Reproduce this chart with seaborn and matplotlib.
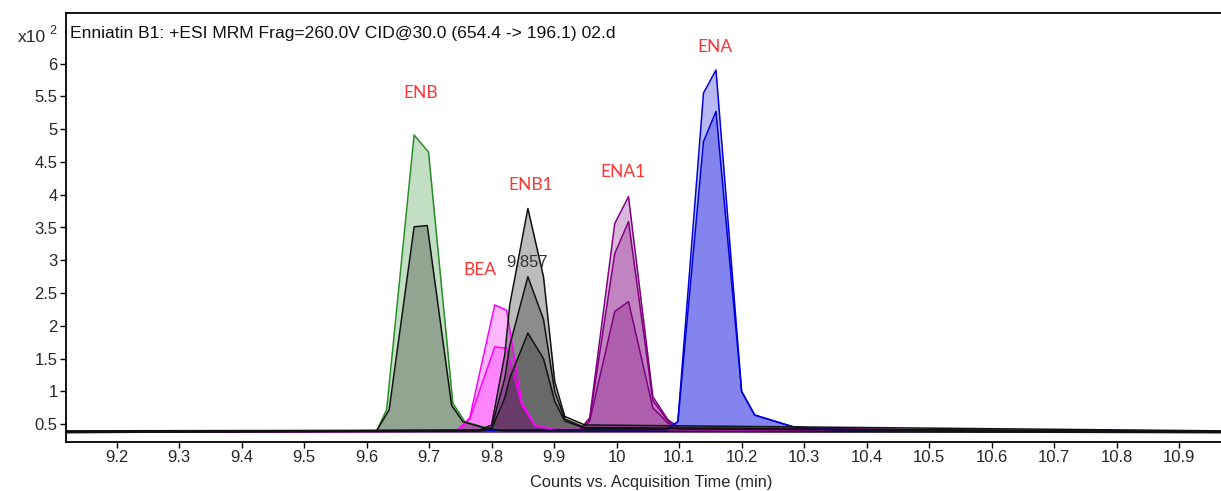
import numpy as np
import pandas as pd
import matplotlib
matplotlib.use("Agg")
import matplotlib.pyplot as plt
import seaborn as sns

# retention times (min) and abundances (x10^2 counts)
enb_t = [9.119, 9.616, 9.632, 9.676, 9.699, 9.738, 9.757, 9.79, 9.82, 10.967]
enb_green = [0.39, 0.40, 0.72, 4.91, 4.65, 0.82, 0.54, 0.45, 0.40, 0.39]
enb_t2 = [9.119, 9.616, 9.636, 9.676, 9.697, 9.736, 9.754, 9.79, 9.82, 10.967]
enb_black = [0.372, 0.40, 0.72, 3.51, 3.53, 0.79, 0.54, 0.44, 0.40, 0.372]

bea_t = [9.119, 9.745, 9.765, 9.805, 9.824, 9.848, 9.869, 9.90, 10.967]
bea_hi = [0.385, 0.40, 0.60, 2.32, 2.24, 0.84, 0.49, 0.42, 0.385]
bea_lo = [0.385, 0.40, 0.58, 1.68, 1.66, 0.80, 0.48, 0.42, 0.385]

enb1_t = [9.119, 9.78, 9.80, 9.821, 9.829, 9.858, 9.883, 9.901, 9.917, 9.949, 10.967]
enb1_hi = [0.40, 0.41, 0.49, 1.56, 2.32, 3.79, 2.75, 1.15, 0.62, 0.49, 0.40]
enb1_mid = [0.386, 0.40, 0.45, 1.20, 1.70, 2.75, 2.10, 1.00, 0.58, 0.45, 0.386]
enb1_lo = [0.378, 0.40, 0.43, 0.90, 1.20, 1.89, 1.50, 0.85, 0.55, 0.44, 0.378]

ena1_t = [9.119, 9.94, 9.957, 9.997, 10.019, 10.058, 10.082, 10.10, 10.967]
ena1_hi = [0.38, 0.40, 0.60, 3.56, 3.97, 0.92, 0.57, 0.45, 0.38]
ena1_mid = [0.38, 0.40, 0.58, 3.10, 3.59, 0.86, 0.55, 0.44, 0.38]
ena1_lo = [0.38, 0.40, 0.55, 2.22, 2.37, 0.75, 0.52, 0.43, 0.38]

ena_t = [9.119, 10.08, 10.098, 10.139, 10.159, 10.20, 10.221, 10.283, 10.35, 10.5, 10.967]
ena_hi = [0.385, 0.42, 0.54, 5.55, 5.90, 1.00, 0.64, 0.46, 0.42, 0.40, 0.385]
ena_lo = [0.385, 0.42, 0.54, 4.81, 5.27, 1.00, 0.64, 0.46, 0.42, 0.40, 0.385]

peak_names = ["ENB", "ENB1", "ENA1", "BEA", "ENA"]
peak_label_x = [9.687, 9.863, 10.01, 9.781, 10.157]
peak_label_y = [5.55, 4.15, 4.35, 2.85, 6.25]

xticks = [9.2, 9.3, 9.4, 9.5, 9.6, 9.7, 9.8, 9.9, 10.0, 10.1, 10.2, 10.3, 10.4, 10.5, 10.6, 10.7, 10.8, 10.9]
xtick_labels = ["9.2", "9.3", "9.4", "9.5", "9.6", "9.7", "9.8", "9.9", "10", "10.1", "10.2", "10.3",
                "10.4", "10.5", "10.6", "10.7", "10.8", "10.9"]
yticks = [0.5, 1, 1.5, 2, 2.5, 3, 3.5, 4, 4.5, 5, 5.5, 6]
ytick_labels = ["0.5", "1", "1.5", "2", "2.5", "3", "3.5", "4", "4.5", "5", "5.5", "6"]

traces = [
    (enb_t, enb_green, "#2a8c2a"),
    (bea_t, bea_hi, "#ff00ff"),
    (bea_t, bea_lo, "#ff00ff"),
    (ena1_t, ena1_hi, "#800080"),
    (ena1_t, ena1_mid, "#800080"),
    (ena1_t, ena1_lo, "#800080"),
    (ena_t, ena_hi, "#0000dd"),
    (ena_t, ena_lo, "#0000dd"),
    (enb_t2, enb_black, "#111111"),
    (enb1_t, enb1_hi, "#111111"),
    (enb1_t, enb1_mid, "#111111"),
    (enb1_t, enb1_lo, "#111111"),
]

sns.set_style("white")
plt.rcParams["font.family"] = ["Liberation Sans", "DejaVu Sans"]

fig = plt.figure(figsize=(12.21, 4.91), dpi=100)
ax = fig.add_axes([66 / 1221, 49 / 491, 1 - 66 / 1221, (442 - 13) / 491])

for t, v, c in traces:
    ax.fill_between(t, v, 0.385, color=c, alpha=0.28, lw=0)
for t, v, c in traces:
    df = pd.DataFrame({"t": t, "v": v})
    sns.lineplot(data=df, x="t", y="v", ax=ax, color=c, lw=1.1, sort=False, estimator=None)

ax.set_xlim(9.119, 10.967)
ax.set_ylim(0.23, 6.77)
ax.set_xticks(xticks)
ax.set_xticklabels(xtick_labels)
ax.set_yticks(yticks)
ax.set_yticklabels(ytick_labels)
ax.tick_params(axis="both", direction="out", length=4, width=1, color="black",
               labelsize=12, pad=2, bottom=True, left=True)
ax.set_xlabel("")
ax.set_ylabel("")
for side in ["left", "bottom", "top"]:
    ax.spines[side].set_color("black")
    ax.spines[side].set_linewidth(1.3)
ax.spines["right"].set_visible(False)

for name, lx, ly in zip(peak_names, peak_label_x, peak_label_y):
    ax.text(lx, ly, name, color="#ff3333", fontsize=12.5, ha="center", va="center",
            family=["Lato", "DejaVu Sans"])
ax.text(9.857, 2.96, "9.857", color="#333333", fontsize=12, ha="center", va="center")

ax.text(0.0035, 0.953, "Enniatin B1: +ESI MRM Frag=260.0V CID@30.0 (654.4 -> 196.1) 02.d",
        transform=ax.transAxes, fontsize=12.6, ha="left", va="center", color="#111111")
fig.text(46 / 1221, 1 - 37 / 491, "x10", fontsize=12.5, ha="right", va="center")
fig.text(49 / 1221, 1 - 31 / 491, "2", fontsize=9, ha="left", va="center")
fig.text(651 / 1221, 1 - 482 / 491, "Counts vs. Acquisition Time (min)", fontsize=11.8,
         ha="center", va="center")

fig.savefig("out.png", dpi=100)
